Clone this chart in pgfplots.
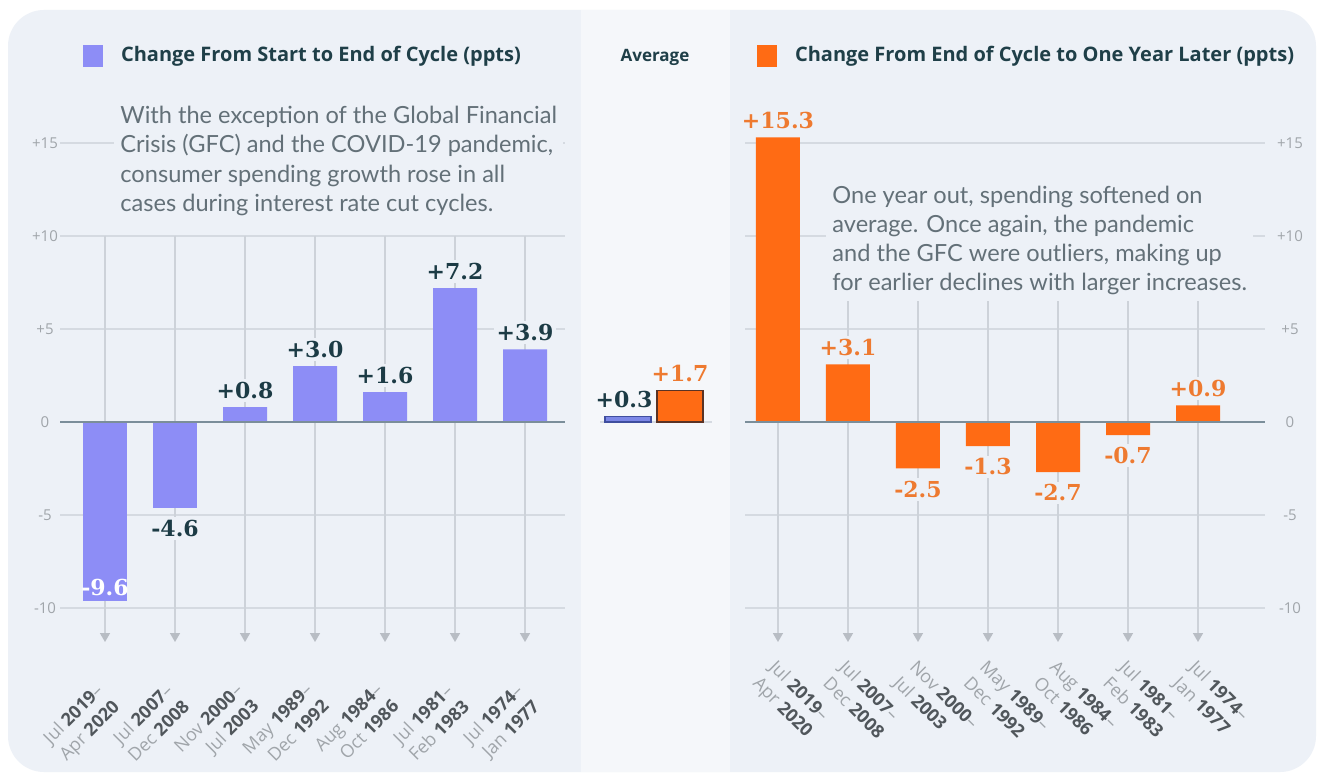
\documentclass[border=0pt]{standalone}
\usepackage{fontspec}
\setmainfont{Open Sans}
\newfontfamily\numfont{DejaVu Serif}
\newfontfamily\annfont{Lato}
\usepackage{pgfplots}
\usepackage{pgfplotstable}
\pgfplotsset{compat=1.18}
\usetikzlibrary{arrows.meta}

\definecolor{panel}{HTML}{EDF1F7}
\definecolor{centerc}{HTML}{F5F7FA}
\definecolor{barblue}{HTML}{8D8DF6}
\definecolor{avgblue}{HTML}{7C87E6}
\definecolor{avgblueedge}{HTML}{3F4E9E}
\definecolor{barorange}{HTML}{FF6B14}
\definecolor{avgorangeedge}{HTML}{5A3325}
\definecolor{labdark}{HTML}{1C3B45}
\definecolor{laborange}{HTML}{EE7A30}
\definecolor{gridc}{HTML}{D5DAE1}
\definecolor{vlinec}{HTML}{CDD2D9}
\definecolor{arrowc}{HTML}{B8BDC4}
\definecolor{zeroc}{HTML}{7B8E9A}
\definecolor{tickc}{HTML}{A0A5AA}
\definecolor{yearc}{HTML}{50565B}
\definecolor{textc}{HTML}{637078}
\definecolor{titlec}{HTML}{1F3F48}

% left panel: change from start to end of cycle
\pgfplotstableread{
x y lab
0 -9.6 -9.6
}\leftfirst
\pgfplotstableread{
x y lab
1 -4.6 -4.6
}\leftneg
\pgfplotstableread{
x y lab
2 0.8 +0.8
3 3.0 +3.0
4 1.6 +1.6
5 7.2 +7.2
6 3.9 +3.9
}\leftpos
% right panel: change from end of cycle to one year later
\pgfplotstableread{
x y lab
0 15.3 +15.3
1 3.1 +3.1
6 0.9 +0.9
}\rightpos
\pgfplotstableread{
x y lab
2 -2.5 -2.5
3 -1.3 -1.3
4 -2.7 -2.7
5 -0.7 -0.7
}\rightneg
% averages
\pgfplotstableread{
x y lab
0 0.3 +0.3
}\avgblue
\pgfplotstableread{
x y lab
1 1.7 +1.7
}\avgorange

\newcommand{\cyc}[4]{\textcolor{tickc}{#1} \textcolor{yearc}{\bfseries #2}\textcolor{tickc}{--}\\\textcolor{tickc}{#3} \textcolor{yearc}{\bfseries #4}}

\tikzset{vline/.style={vlinec, line width=0.7pt, -{Triangle[length=4.5pt,width=5pt,color=arrowc]}}}

\pgfplotsset{
  panelstyle/.style={
    scale only axis, ybar, bar shift=0pt, bar width=22pt,
    ymin=-12.5, ymax=17, height=274.35pt,
    axis line style={draw=none}, major tick length=0pt,
    ytick={-10,-5,0,5,10,15}, yticklabels={-10,-5,0,+5,+10,+15},
    ymajorgrids, grid style={gridc, line width=0.7pt},
    xtick={0,...,6},
    clip=false,
    nodes near coords, point meta=explicit symbolic,
    every node near coord/.append style={font=\numfont\bfseries\fontsize{11}{12}\selectfont, inner sep=1.5pt, fill=panel},
    yticklabel style={font=\fontsize{7.5}{9}\selectfont, text=tickc},
    xticklabel style={font=\fontsize{9}{11.5}\selectfont},
    /pgf/number format/assume math mode=true,
  },
  pos/.style={every node near coord/.append style={anchor=south, yshift=2.5pt}},
  neg/.style={every node near coord/.append style={anchor=north, yshift=-4.5pt}},
}

\begin{document}
\begin{tikzpicture}[x=0.5pt,y=-0.5pt]
\useasboundingbox (0,0) rectangle (1322,774);
\fill[white] (0,0) rectangle (1322,774);
\fill[panel, rounded corners=18pt] (8,10) rectangle (1316,772);
\fill[centerc] (581,10) rectangle (730,772);

% LEFT PANEL
\begin{axis}[panelstyle,
  at={(30pt,-327.25pt)}, anchor=south west,
  width=252.5pt, xmin=-0.643, xmax=6.571,
  yticklabel style={anchor=center, xshift=-7.5pt},
  xticklabels={{\cyc{Jul}{2019}{Apr}{2020}},{\cyc{Jul}{2007}{Dec}{2008}},{\cyc{Nov}{2000}{Jul}{2003}},{\cyc{May}{1989}{Dec}{1992}},{\cyc{Aug}{1984}{Oct}{1986}},{\cyc{Jul}{1981}{Feb}{1983}},{\cyc{Jul}{1974}{Jan}{1977}}},
  xticklabel style={rotate=45, anchor=north east, align=right, xshift=-10pt, yshift=-2.5pt},
]
\pgfplotsinvokeforeach{0,...,6}{\draw[vline] (axis cs:#1,10) -- (axis cs:#1,-11.83);}
\addplot[fill=barblue, draw=none,
  every node near coord/.append style={anchor=south, fill=none, text=white, yshift=0.5pt}]
  table[x=x, y=y, meta=lab] {\leftfirst};
\addplot[fill=barblue, draw=none, neg,
  every node near coord/.append style={text=labdark}]
  table[x=x, y=y, meta=lab] {\leftneg};
\addplot[fill=barblue, draw=none, pos,
  every node near coord/.append style={text=labdark}]
  table[x=x, y=y, meta=lab] {\leftpos};
\draw[zeroc, line width=1.2pt] (axis cs:-0.643,0) -- (axis cs:6.571,0);
\end{axis}

% CENTER PANEL
\begin{axis}[panelstyle,
  at={(300pt,-327.25pt)}, anchor=south west,
  width=56pt, xmin=-0.538, xmax=1.615, bar width=23pt,
  ytick={0}, yticklabels={}, xtick=\empty,
  every node near coord/.append style={fill=none},
]
\addplot[fill=avgblue, draw=avgblueedge, line width=0.8pt, pos,
  every node near coord/.append style={text=labdark, xshift=-2pt}]
  table[x=x, y=y, meta=lab] {\avgblue};
\addplot[fill=barorange, draw=avgorangeedge, line width=0.8pt, pos,
  every node near coord/.append style={text=laborange}]
  table[x=x, y=y, meta=lab] {\avgorange};
\end{axis}

% RIGHT PANEL
\begin{axis}[panelstyle,
  at={(372.5pt,-327.25pt)}, anchor=south west,
  width=260pt, xmin=-0.471, xmax=6.957,
  yticklabel pos=right,
  yticklabel style={anchor=center, xshift=12.5pt},
  xticklabels={{\cyc{Jul}{2019}{Apr}{2020}},{\cyc{Jul}{2007}{Dec}{2008}},{\cyc{Nov}{2000}{Jul}{2003}},{\cyc{May}{1989}{Dec}{1992}},{\cyc{Aug}{1984}{Oct}{1986}},{\cyc{Jul}{1981}{Feb}{1983}},{\cyc{Jul}{1974}{Jan}{1977}}},
  xticklabel style={rotate=-45, anchor=north west, align=left, xshift=-2pt, yshift=2pt},
]
\pgfplotsinvokeforeach{0,...,6}{\draw[vline] (axis cs:#1,10) -- (axis cs:#1,-11.83);}
\addplot[fill=barorange, draw=none, pos,
  every node near coord/.append style={text=laborange}]
  table[x=x, y=y, meta=lab] {\rightpos};
\addplot[fill=barorange, draw=none, neg,
  every node near coord/.append style={text=laborange}]
  table[x=x, y=y, meta=lab] {\rightneg};
\draw[zeroc, line width=1.2pt] (axis cs:-0.471,0) -- (axis cs:6.957,0);
\end{axis}

% annotations
\node[anchor=north west, align=left, fill=panel, inner sep=3pt, text=textc,
  font=\annfont\fontsize{11.8}{14.6}\selectfont] at (114,100)
  {With the exception of the Global Financial\\Crisis (GFC) and the COVID-19 pandemic,\\consumer spending growth rose in all\\cases during interest rate cut cycles.};
\node[anchor=north west, align=left, fill=panel, inner sep=3pt, text=textc,
  font=\annfont\fontsize{11.8}{14.6}\selectfont] at (826,179.5)
  {One year out, spending softened on\\average. Once again, the pandemic\\and the GFC were outliers, making up\\for earlier declines with larger increases.};

% titles / legend
\fill[barblue] (83,45) rectangle (103,67);
\node[anchor=west, text=titlec, font=\bfseries\fontsize{10}{12}\selectfont] at (114,56) {Change From Start to End of Cycle (ppts)};
\fill[barorange] (757,45) rectangle (777,67);
\node[anchor=west, text=titlec, font=\bfseries\fontsize{10}{12}\selectfont] at (788,56) {Change From End of Cycle to One Year Later (ppts)};
\node[text=titlec, font=\bfseries\fontsize{8.5}{10}\selectfont] at (655,57) {Average};
\end{tikzpicture}
\end{document}
